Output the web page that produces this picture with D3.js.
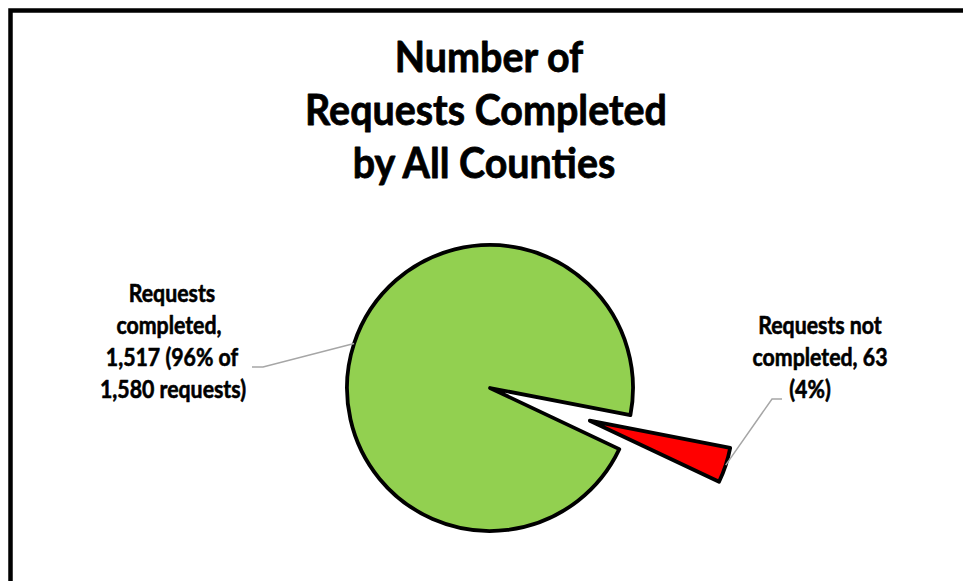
<!DOCTYPE html>
<html>
<head>
<meta charset="utf-8">
<script src="https://cdn.jsdelivr.net/npm/d3@7"></script>
<style>
  html, body { margin: 0; padding: 0; background: #fff; }
  svg { display: block; }
  text { font-family: Lato, "Open Sans", "DejaVu Sans", sans-serif; font-weight: bold; fill: #000; stroke: #000; stroke-linejoin: round; }
</style>
</head>
<body>
<svg id="chart" width="963" height="581"></svg>
<script>
// ---- data ----
const categories = ["Requests completed", "Requests not completed"];
const values = [1517, 63];
const colors = ["#92D050", "#FF0000"];
const titleLines = ["Number of", "Requests Completed", "by All Counties"];
const labelLines = [
  ["Requests", "completed,", "1,517 (96% of", "1,580 requests)"],
  ["Requests not", "completed, 63", "(4%)"]
];

// ---- layout ----
const W = 963, H = 581;
const cx = 490, cy = 388, R = 143;
const explode = [0, 105];
const startDeg = 115.3;

const svg = d3.select("#chart");

// outer frame (extends beyond window on right and bottom)
svg.append("rect")
  .attr("x", 10.5).attr("y", 10.5)
  .attr("width", 1000).attr("height", 640)
  .attr("fill", "#fff")
  .attr("stroke", "#000").attr("stroke-width", 4.5);

function fittedSize(str, base, target) {
  const t = svg.append("text").attr("font-size", base).text(str);
  const w = t.node().getComputedTextLength();
  t.remove();
  return base * target / w;
}
// draw text lines: taller glyphs, condensed back to the fitted width (Calibri-like proportions)
function drawLines(g, lines, xs, ys, fs, stretch, sw) {
  g.selectAll("text").data(lines).join("text")
    .attr("x", (d, i) => xs[i]).attr("y", (d, i) => ys[i])
    .attr("text-anchor", "middle")
    .attr("font-size", fs)
    .attr("stroke-width", sw)
    .text(d => d)
    .each(function () {
      const w = this.getComputedTextLength();
      d3.select(this).attr("font-size", fs * stretch)
        .attr("textLength", w).attr("lengthAdjust", "spacingAndGlyphs");
    });
}

// title
const titleFs = fittedSize(titleLines[1], 40, 362);
drawLines(svg.append("g"), titleLines, [489, 486, 484], [72, 125, 178], titleFs, 1.08, 0.8);

// pie
const pie = d3.pie().sort(null).value(d => d)
  .startAngle(startDeg * Math.PI / 180)
  .endAngle(startDeg * Math.PI / 180 + 2 * Math.PI);
const arcs = pie(values);
const arc = d3.arc().innerRadius(0).outerRadius(R);

const offsets = arcs.map((a, i) => {
  const m = (a.startAngle + a.endAngle) / 2;
  return [Math.sin(m) * explode[i], -Math.cos(m) * explode[i]];
});

const pieG = svg.append("g").attr("transform", `translate(${cx},${cy})`);
pieG.selectAll("path").data(arcs).join("path")
  .attr("transform", (d, i) => `translate(${offsets[i][0]},${offsets[i][1]})`)
  .attr("d", arc)
  .attr("fill", (d, i) => colors[i])
  .attr("stroke", "#000")
  .attr("stroke-width", 3.8)
  .attr("stroke-linejoin", "round");

// leader lines
const elbows = [
  [[263, 367], [252, 367]],
  [[772, 399], [782, 399]]
];
const lineGen = d3.line();
arcs.forEach((a, i) => {
  const m = (a.startAngle + a.endAngle) / 2;
  const p0 = [cx + offsets[i][0] + Math.sin(m) * R, cy + offsets[i][1] - Math.cos(m) * R];
  svg.append("path")
    .attr("d", lineGen([p0, ...elbows[i]]))
    .attr("fill", "none")
    .attr("stroke", "#A6A6A6")
    .attr("stroke-width", 1.5);
});

// data labels
const lblFs = fittedSize(labelLines[1][1], 22, 135);
const labelPos = [
  { x: [172, 169, 172, 173], y: [302, 334, 366, 398] },
  { x: [820, 820, 810], y: [334, 366, 398] }
];
labelLines.forEach((lines, i) => {
  drawLines(svg.append("g"), lines, labelPos[i].x, labelPos[i].y, lblFs, 1.15, 0.6);
});
</script>
</body>
</html>
